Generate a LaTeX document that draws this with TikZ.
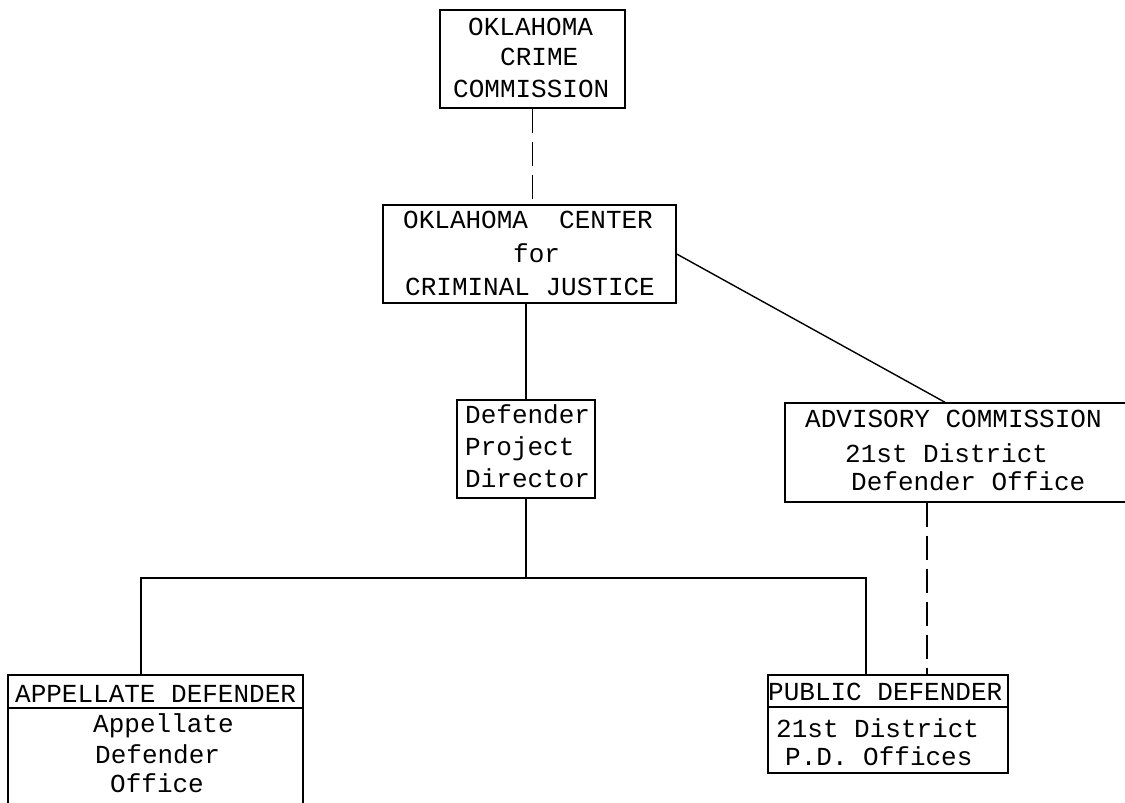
\documentclass[tikz,border=0pt]{standalone}
\usepackage{fontspec}
\setmainfont{Liberation Mono}
\begin{document}
\begin{tikzpicture}[x=1pt,y=-1pt,
  box/.style={draw,line width=1.4pt,rectangle,inner sep=0pt},
  txt/.style={anchor=base west,inner sep=0pt,font=\fontsize{26}{31}\selectfont},
  link/.style={line width=1.4pt},
  dlink/.style={line width=1.4pt,dash pattern=on 24pt off 9pt}]
\useasboundingbox (0,0) rectangle (1125,803);
\clip (0,0) rectangle (1125,803);
% boxes
\node[box,minimum width=185pt,minimum height=98pt] (occ) at (532.5,59) {};
\node[box,minimum width=293pt,minimum height=98pt] (ocj) at (529.5,254) {};
\node[box,minimum width=138pt,minimum height=98pt] (dir) at (526,449) {};
\node[box,minimum width=345pt,minimum height=99pt] (adv) at (957.5,452.5) {};
\node[box,minimum width=295pt,minimum height=33pt] (apph) at (155.5,691.5) {};
\node[box,minimum width=295pt,minimum height=122pt] (appb) at (155.5,769) {};
\node[box,minimum width=240pt,minimum height=32pt] (pdh) at (888,691) {};
\node[box,minimum width=240pt,minimum height=66pt] (pdb) at (888,740) {};
% texts
\node[txt] (t1) at (468,35) {OKLAHOMA};
\node[txt] (t2) at (500,65) {CRIME};
\node[txt] (t3) at (453,97) {COMMISSION};
\node[txt] (t4) at (403,228) {OKLAHOMA~~CENTER};
\node[txt] (t5) at (513,262) {for};
\node[txt] (t6) at (405,295) {CRIMINAL JUSTICE};
\node[txt] (t7) at (465,423) {Defender};
\node[txt] (t8) at (465,455) {Project};
\node[txt] (t9) at (465,487) {Director};
\node[txt] (t10) at (805,427) {ADVISORY COMMISSION};
\node[txt] (t11) at (845,462) {21st District};
\node[txt] (t12) at (851,490) {Defender Office};
\node[txt] (t13) at (15,702) {APPELLATE DEFENDER};
\node[txt] (t14) at (93,732) {Appellate};
\node[txt] (t15) at (95,763) {Defender};
\node[txt] (t16) at (110,792) {Office};
\node[txt] (t17) at (768,700) {PUBLIC DEFENDER};
\node[txt] (t18) at (776,737) {21st District};
\node[txt] (t19) at (785,765) {P.D. Offices};
% connectors
\coordinate (busL) at (141,578);
\coordinate (busR) at (866,578);
\coordinate (dashx) at (927,0);
\draw[dlink] (occ.south) -- (occ.south |- ocj.north);
\draw[link] (dir.north) -- (dir.north |- ocj.south);
\draw[link] (ocj.east) -- ([xshift=-12.5pt]adv.north);
\draw[link] (dir.south) -- (dir.south |- busL);
\draw[link] (busL |- apph.north) -- (busL) -- (busR) -- (busR |- pdh.north);
\draw[dlink] (adv.south -| dashx) -- (pdh.north -| dashx);
\end{tikzpicture}
\end{document}
